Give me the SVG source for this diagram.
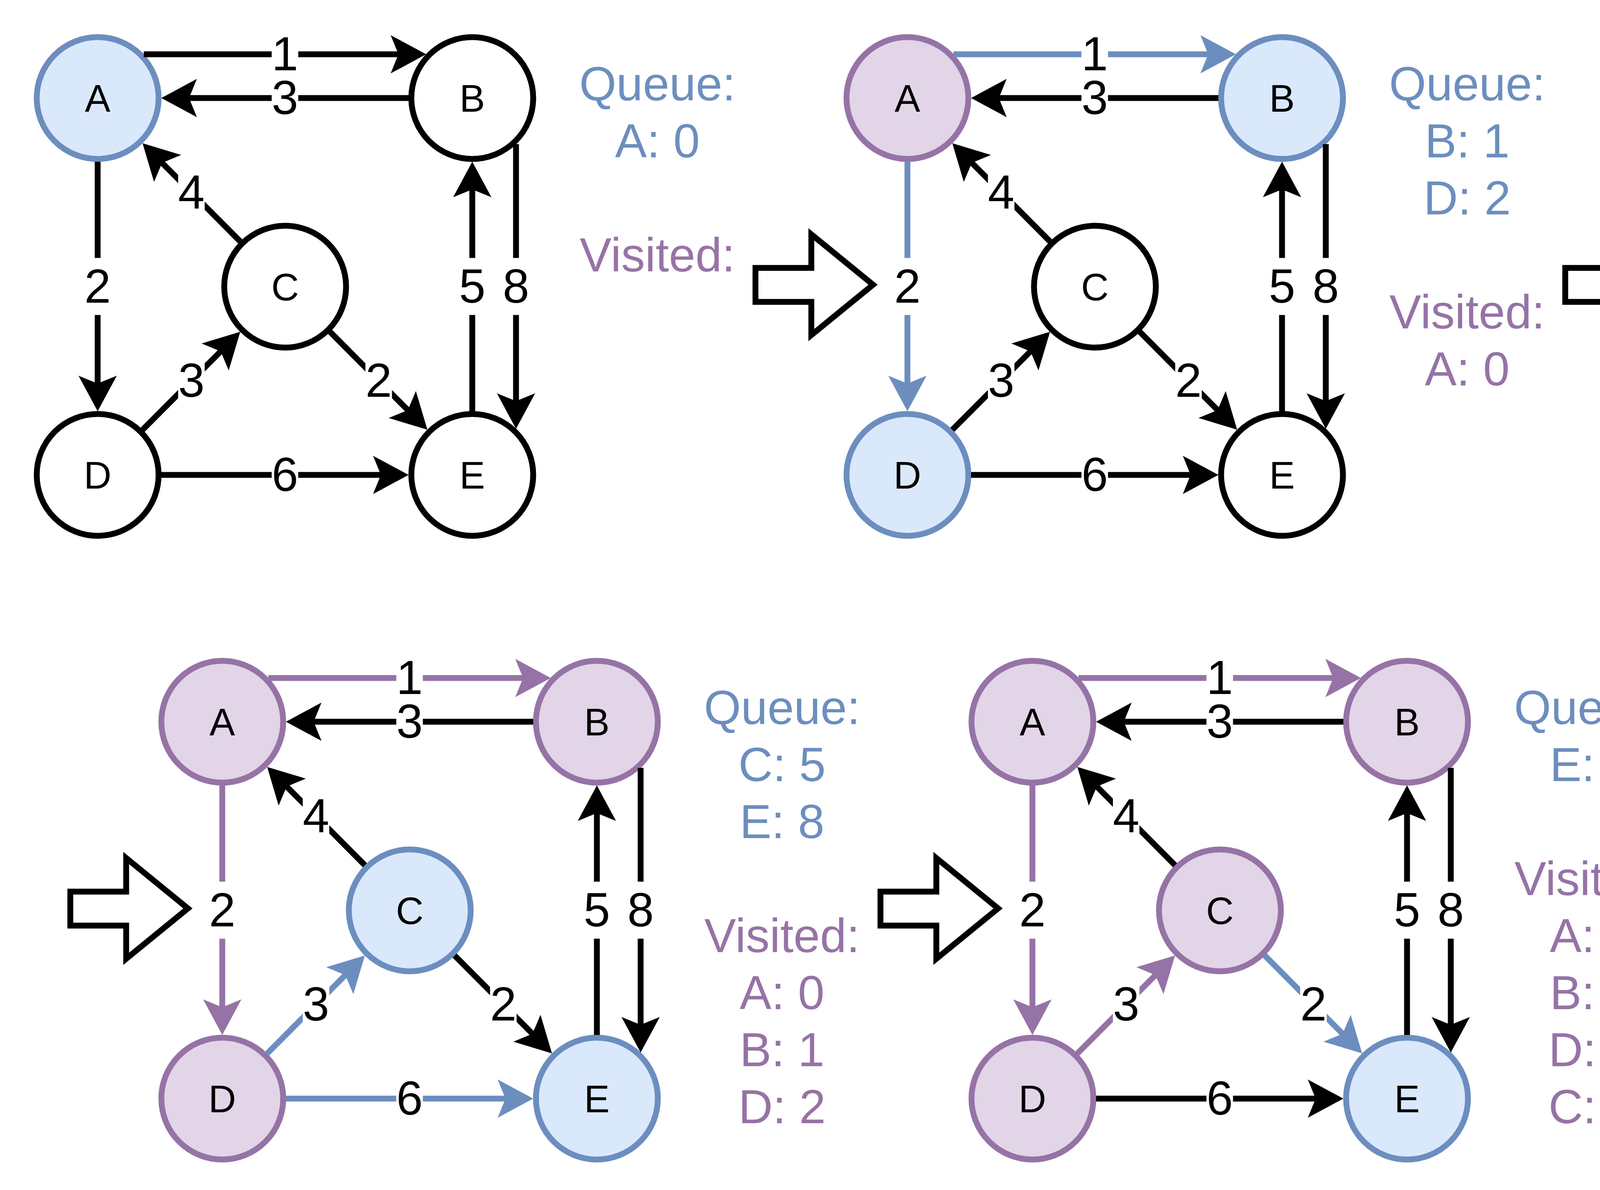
<svg xmlns="http://www.w3.org/2000/svg" width="6398" height="3047" viewBox="0 0 6398 3047">
<defs>
<style>
.nd circle{stroke-width:15}
.w circle{fill:#ffffff;stroke:#000000}
.b circle{fill:#dae8fc;stroke:#6c8ebf}
.p circle{fill:#e1d5e7;stroke:#9673a6}
.nd text{font-family:"Liberation Sans",Arial,sans-serif;font-size:98px;text-anchor:middle;fill:#000}
.e{fill:none;stroke-width:15}
.k{stroke:#000000;marker-end:url(#mk)}
.bl{stroke:#6c8ebf;marker-end:url(#mb)}
.pu{stroke:#9673a6;marker-end:url(#mp)}
.lbg rect{fill:#ffffff}
.lt text{font-family:"Liberation Sans",Arial,sans-serif;font-size:122px;text-anchor:middle;fill:#000}
.st{fill:#ffffff;stroke:#000000;stroke-width:15;stroke-linejoin:miter}
.tx text{font-family:"Liberation Sans",Arial,sans-serif;font-size:122px;text-anchor:middle}
.q{fill:#6c8ebf}
.v{fill:#9673a6}
</style>
<marker id="mk" markerUnits="userSpaceOnUse" orient="auto" refX="0" refY="0" markerWidth="200" markerHeight="200" overflow="visible"><path d="M60,0 L-31,-49 L-11,0 L-31,49 Z" fill="#000000"/></marker>
<marker id="mb" markerUnits="userSpaceOnUse" orient="auto" refX="0" refY="0" markerWidth="200" markerHeight="200" overflow="visible"><path d="M60,0 L-31,-49 L-11,0 L-31,49 Z" fill="#6c8ebf"/></marker>
<marker id="mp" markerUnits="userSpaceOnUse" orient="auto" refX="0" refY="0" markerWidth="200" markerHeight="200" overflow="visible"><path d="M60,0 L-31,-49 L-11,0 L-31,49 Z" fill="#9673a6"/></marker>
</defs>
<rect width="6398" height="3047" fill="#ffffff"/>

<!-- Panel 1 -->
<g id="p1" transform="translate(250,251)">
<g id="p1-nodes">
<g id="p1-A" class="nd b"><circle cx="0" cy="0" r="156"/><text x="0" y="35">A</text></g>
<g id="p1-B" class="nd w"><circle cx="959" cy="0" r="156"/><text x="959" y="35">B</text></g>
<g id="p1-C" class="nd w"><circle cx="480" cy="483" r="156"/><text x="480" y="518">C</text></g>
<g id="p1-D" class="nd w"><circle cx="0" cy="965" r="156"/><text x="0" y="1000">D</text></g>
<g id="p1-E" class="nd w"><circle cx="959" cy="965" r="156"/><text x="959" y="1000">E</text></g>
</g>
<g id="p1-connectors">
<path class="e k" d="M118,-112 H781"/>
<path class="e k" d="M796,0 H223"/>
<path class="e k" d="M0,163 V742"/>
<path class="e k" d="M959,802 V223"/>
<path class="e k" d="M1071,118 V787"/>
<path class="e k" d="M163,965 H736"/>
<path class="e k" d="M365.1,367.4 L157.2,158.2"/>
<path class="e k" d="M115,849.5 L322.7,641"/>
<path class="e k" d="M594.9,598.6 L801.8,806.8"/>
<g class="lbg">
<rect x="445.5" y="-185" width="68" height="146"/><rect x="445.5" y="-73" width="68" height="146"/><rect x="-34" y="409.5" width="68" height="146"/><rect x="925" y="409.5" width="68" height="146"/><rect x="1037" y="409.5" width="68" height="146"/><rect x="445.5" y="892" width="68" height="146"/><rect x="206" y="168.5" width="68" height="146"/><rect x="206" y="651" width="68" height="146"/><rect x="685.5" y="651" width="68" height="146"/>
</g>
<g class="lt">
<text x="479.5" y="-71">1</text><text x="479.5" y="41">3</text><text x="0" y="523.5">2</text><text x="959" y="523.5">5</text><text x="1071" y="523.5">8</text><text x="479.5" y="1006">6</text><text x="240" y="282.5">4</text><text x="240" y="765">3</text><text x="719.5" y="765">2</text>
</g>
</g>
<g id="p1-text" class="tx">
<text class="q" x="1433" y="6">Queue:</text>
<text class="q" x="1433" y="152">A: 0</text>
<text class="v" x="1433" y="444">Visited:</text>
</g>
</g>

<!-- Panel 2 -->
<g id="p2" transform="translate(2323,251)">
<g id="p2-step"><path class="st" d="M-389,435 L-246,435 L-246,349 L-88,478 L-246,607 L-246,522 L-389,522 Z"/></g>
<g id="p2-nodes">
<g id="p2-A" class="nd p"><circle cx="0" cy="0" r="156"/><text x="0" y="35">A</text></g>
<g id="p2-B" class="nd b"><circle cx="959" cy="0" r="156"/><text x="959" y="35">B</text></g>
<g id="p2-C" class="nd w"><circle cx="480" cy="483" r="156"/><text x="480" y="518">C</text></g>
<g id="p2-D" class="nd b"><circle cx="0" cy="965" r="156"/><text x="0" y="1000">D</text></g>
<g id="p2-E" class="nd w"><circle cx="959" cy="965" r="156"/><text x="959" y="1000">E</text></g>
</g>
<g id="p2-connectors">
<path class="e bl" d="M118,-112 H781"/>
<path class="e k" d="M796,0 H223"/>
<path class="e bl" d="M0,163 V742"/>
<path class="e k" d="M959,802 V223"/>
<path class="e k" d="M1071,118 V787"/>
<path class="e k" d="M163,965 H736"/>
<path class="e k" d="M365.1,367.4 L157.2,158.2"/>
<path class="e k" d="M115,849.5 L322.7,641"/>
<path class="e k" d="M594.9,598.6 L801.8,806.8"/>
<g class="lbg">
<rect x="445.5" y="-185" width="68" height="146"/><rect x="445.5" y="-73" width="68" height="146"/><rect x="-34" y="409.5" width="68" height="146"/><rect x="925" y="409.5" width="68" height="146"/><rect x="1037" y="409.5" width="68" height="146"/><rect x="445.5" y="892" width="68" height="146"/><rect x="206" y="168.5" width="68" height="146"/><rect x="206" y="651" width="68" height="146"/><rect x="685.5" y="651" width="68" height="146"/>
</g>
<g class="lt">
<text x="479.5" y="-71">1</text><text x="479.5" y="41">3</text><text x="0" y="523.5">2</text><text x="959" y="523.5">5</text><text x="1071" y="523.5">8</text><text x="479.5" y="1006">6</text><text x="240" y="282.5">4</text><text x="240" y="765">3</text><text x="719.5" y="765">2</text>
</g>
</g>
<g id="p2-text" class="tx">
<text class="q" x="1433" y="6">Queue:</text>
<text class="q" x="1433" y="152">B: 1</text>
<text class="q" x="1433" y="298">D: 2</text>
<text class="v" x="1433" y="590">Visited:</text>
<text class="v" x="1433" y="736">A: 0</text>
</g>
</g>

<!-- Panel 3 -->
<g id="p3" transform="translate(4396,251)">
<g id="p3-step"><path class="st" d="M-389,435 L-246,435 L-246,349 L-88,478 L-246,607 L-246,522 L-389,522 Z"/></g>
<g id="p3-nodes">
<g id="p3-A" class="nd p"><circle cx="0" cy="0" r="156"/><text x="0" y="35">A</text></g>
<g id="p3-B" class="nd p"><circle cx="959" cy="0" r="156"/><text x="959" y="35">B</text></g>
<g id="p3-C" class="nd w"><circle cx="480" cy="483" r="156"/><text x="480" y="518">C</text></g>
<g id="p3-D" class="nd b"><circle cx="0" cy="965" r="156"/><text x="0" y="1000">D</text></g>
<g id="p3-E" class="nd b"><circle cx="959" cy="965" r="156"/><text x="959" y="1000">E</text></g>
</g>
<g id="p3-connectors">
<path class="e pu" d="M118,-112 H781"/>
<path class="e k" d="M796,0 H223"/>
<path class="e bl" d="M0,163 V742"/>
<path class="e k" d="M959,802 V223"/>
<path class="e bl" d="M1071,118 V787"/>
<path class="e k" d="M163,965 H736"/>
<path class="e k" d="M365.1,367.4 L157.2,158.2"/>
<path class="e k" d="M115,849.5 L322.7,641"/>
<path class="e k" d="M594.9,598.6 L801.8,806.8"/>
<g class="lbg">
<rect x="445.5" y="-185" width="68" height="146"/><rect x="445.5" y="-73" width="68" height="146"/><rect x="-34" y="409.5" width="68" height="146"/><rect x="925" y="409.5" width="68" height="146"/><rect x="1037" y="409.5" width="68" height="146"/><rect x="445.5" y="892" width="68" height="146"/><rect x="206" y="168.5" width="68" height="146"/><rect x="206" y="651" width="68" height="146"/><rect x="685.5" y="651" width="68" height="146"/>
</g>
<g class="lt">
<text x="479.5" y="-71">1</text><text x="479.5" y="41">3</text><text x="0" y="523.5">2</text><text x="959" y="523.5">5</text><text x="1071" y="523.5">8</text><text x="479.5" y="1006">6</text><text x="240" y="282.5">4</text><text x="240" y="765">3</text><text x="719.5" y="765">2</text>
</g>
</g>
<g id="p3-text" class="tx">
<text class="q" x="1433" y="6">Queue:</text>
<text class="q" x="1433" y="152">D: 2</text>
<text class="q" x="1433" y="298">E: 9</text>
<text class="v" x="1433" y="590">Visited:</text>
<text class="v" x="1433" y="736">A: 0</text>
<text class="v" x="1433" y="882">B: 1</text>
</g>
</g>

<!-- Panel 4 -->
<g id="p4" transform="translate(569,1848)">
<g id="p4-step"><path class="st" d="M-389,435 L-246,435 L-246,349 L-88,478 L-246,607 L-246,522 L-389,522 Z"/></g>
<g id="p4-nodes">
<g id="p4-A" class="nd p"><circle cx="0" cy="0" r="156"/><text x="0" y="35">A</text></g>
<g id="p4-B" class="nd p"><circle cx="959" cy="0" r="156"/><text x="959" y="35">B</text></g>
<g id="p4-C" class="nd b"><circle cx="480" cy="483" r="156"/><text x="480" y="518">C</text></g>
<g id="p4-D" class="nd p"><circle cx="0" cy="965" r="156"/><text x="0" y="1000">D</text></g>
<g id="p4-E" class="nd b"><circle cx="959" cy="965" r="156"/><text x="959" y="1000">E</text></g>
</g>
<g id="p4-connectors">
<path class="e pu" d="M118,-112 H781"/>
<path class="e k" d="M796,0 H223"/>
<path class="e pu" d="M0,163 V742"/>
<path class="e k" d="M959,802 V223"/>
<path class="e k" d="M1071,118 V787"/>
<path class="e bl" d="M163,965 H736"/>
<path class="e k" d="M365.1,367.4 L157.2,158.2"/>
<path class="e bl" d="M115,849.5 L322.7,641"/>
<path class="e k" d="M594.9,598.6 L801.8,806.8"/>
<g class="lbg">
<rect x="445.5" y="-185" width="68" height="146"/><rect x="445.5" y="-73" width="68" height="146"/><rect x="-34" y="409.5" width="68" height="146"/><rect x="925" y="409.5" width="68" height="146"/><rect x="1037" y="409.5" width="68" height="146"/><rect x="445.5" y="892" width="68" height="146"/><rect x="206" y="168.5" width="68" height="146"/><rect x="206" y="651" width="68" height="146"/><rect x="685.5" y="651" width="68" height="146"/>
</g>
<g class="lt">
<text x="479.5" y="-71">1</text><text x="479.5" y="41">3</text><text x="0" y="523.5">2</text><text x="959" y="523.5">5</text><text x="1071" y="523.5">8</text><text x="479.5" y="1006">6</text><text x="240" y="282.5">4</text><text x="240" y="765">3</text><text x="719.5" y="765">2</text>
</g>
</g>
<g id="p4-text" class="tx">
<text class="q" x="1433" y="6">Queue:</text>
<text class="q" x="1433" y="152">C: 5</text>
<text class="q" x="1433" y="298">E: 8</text>
<text class="v" x="1433" y="590">Visited:</text>
<text class="v" x="1433" y="736">A: 0</text>
<text class="v" x="1433" y="882">B: 1</text>
<text class="v" x="1433" y="1028">D: 2</text>
</g>
</g>

<!-- Panel 5 -->
<g id="p5" transform="translate(2643,1848)">
<g id="p5-step"><path class="st" d="M-389,435 L-246,435 L-246,349 L-88,478 L-246,607 L-246,522 L-389,522 Z"/></g>
<g id="p5-nodes">
<g id="p5-A" class="nd p"><circle cx="0" cy="0" r="156"/><text x="0" y="35">A</text></g>
<g id="p5-B" class="nd p"><circle cx="959" cy="0" r="156"/><text x="959" y="35">B</text></g>
<g id="p5-C" class="nd p"><circle cx="480" cy="483" r="156"/><text x="480" y="518">C</text></g>
<g id="p5-D" class="nd p"><circle cx="0" cy="965" r="156"/><text x="0" y="1000">D</text></g>
<g id="p5-E" class="nd b"><circle cx="959" cy="965" r="156"/><text x="959" y="1000">E</text></g>
</g>
<g id="p5-connectors">
<path class="e pu" d="M118,-112 H781"/>
<path class="e k" d="M796,0 H223"/>
<path class="e pu" d="M0,163 V742"/>
<path class="e k" d="M959,802 V223"/>
<path class="e k" d="M1071,118 V787"/>
<path class="e k" d="M163,965 H736"/>
<path class="e k" d="M365.1,367.4 L157.2,158.2"/>
<path class="e pu" d="M115,849.5 L322.7,641"/>
<path class="e bl" d="M594.9,598.6 L801.8,806.8"/>
<g class="lbg">
<rect x="445.5" y="-185" width="68" height="146"/><rect x="445.5" y="-73" width="68" height="146"/><rect x="-34" y="409.5" width="68" height="146"/><rect x="925" y="409.5" width="68" height="146"/><rect x="1037" y="409.5" width="68" height="146"/><rect x="445.5" y="892" width="68" height="146"/><rect x="206" y="168.5" width="68" height="146"/><rect x="206" y="651" width="68" height="146"/><rect x="685.5" y="651" width="68" height="146"/>
</g>
<g class="lt">
<text x="479.5" y="-71">1</text><text x="479.5" y="41">3</text><text x="0" y="523.5">2</text><text x="959" y="523.5">5</text><text x="1071" y="523.5">8</text><text x="479.5" y="1006">6</text><text x="240" y="282.5">4</text><text x="240" y="765">3</text><text x="719.5" y="765">2</text>
</g>
</g>
<g id="p5-text" class="tx">
<text class="q" x="1433" y="6">Queue:</text>
<text class="q" x="1433" y="152">E: 7</text>
<text class="v" x="1433" y="444">Visited:</text>
<text class="v" x="1433" y="590">A: 0</text>
<text class="v" x="1433" y="736">B: 1</text>
<text class="v" x="1433" y="882">D: 2</text>
<text class="v" x="1433" y="1028">C: 5</text>
</g>
</g>

<!-- Panel 6 -->
<g id="p6" transform="translate(4717,1848)">
<g id="p6-step"><path class="st" d="M-389,435 L-246,435 L-246,349 L-88,478 L-246,607 L-246,522 L-389,522 Z"/></g>
<g id="p6-nodes">
<g id="p6-A" class="nd p"><circle cx="0" cy="0" r="156"/><text x="0" y="35">A</text></g>
<g id="p6-B" class="nd p"><circle cx="959" cy="0" r="156"/><text x="959" y="35">B</text></g>
<g id="p6-C" class="nd p"><circle cx="480" cy="483" r="156"/><text x="480" y="518">C</text></g>
<g id="p6-D" class="nd p"><circle cx="0" cy="965" r="156"/><text x="0" y="1000">D</text></g>
<g id="p6-E" class="nd p"><circle cx="959" cy="965" r="156"/><text x="959" y="1000">E</text></g>
</g>
<g id="p6-connectors">
<path class="e pu" d="M118,-112 H781"/>
<path class="e k" d="M796,0 H223"/>
<path class="e pu" d="M0,163 V742"/>
<path class="e k" d="M959,802 V223"/>
<path class="e k" d="M1071,118 V787"/>
<path class="e k" d="M163,965 H736"/>
<path class="e k" d="M365.1,367.4 L157.2,158.2"/>
<path class="e pu" d="M115,849.5 L322.7,641"/>
<path class="e pu" d="M594.9,598.6 L801.8,806.8"/>
<g class="lbg">
<rect x="445.5" y="-185" width="68" height="146"/><rect x="445.5" y="-73" width="68" height="146"/><rect x="-34" y="409.5" width="68" height="146"/><rect x="925" y="409.5" width="68" height="146"/><rect x="1037" y="409.5" width="68" height="146"/><rect x="445.5" y="892" width="68" height="146"/><rect x="206" y="168.5" width="68" height="146"/><rect x="206" y="651" width="68" height="146"/><rect x="685.5" y="651" width="68" height="146"/>
</g>
<g class="lt">
<text x="479.5" y="-71">1</text><text x="479.5" y="41">3</text><text x="0" y="523.5">2</text><text x="959" y="523.5">5</text><text x="1071" y="523.5">8</text><text x="479.5" y="1006">6</text><text x="240" y="282.5">4</text><text x="240" y="765">3</text><text x="719.5" y="765">2</text>
</g>
</g>
<g id="p6-text" class="tx">
<text class="q" x="1433" y="6">Queue:</text>
<text class="v" x="1433" y="298">Visited:</text>
<text class="v" x="1433" y="444">A: 0</text>
<text class="v" x="1433" y="590">B: 1</text>
<text class="v" x="1433" y="736">D: 2</text>
<text class="v" x="1433" y="882">C: 5</text>
<text class="v" x="1433" y="1028">E: 7</text>
</g>
</g>
</svg>
